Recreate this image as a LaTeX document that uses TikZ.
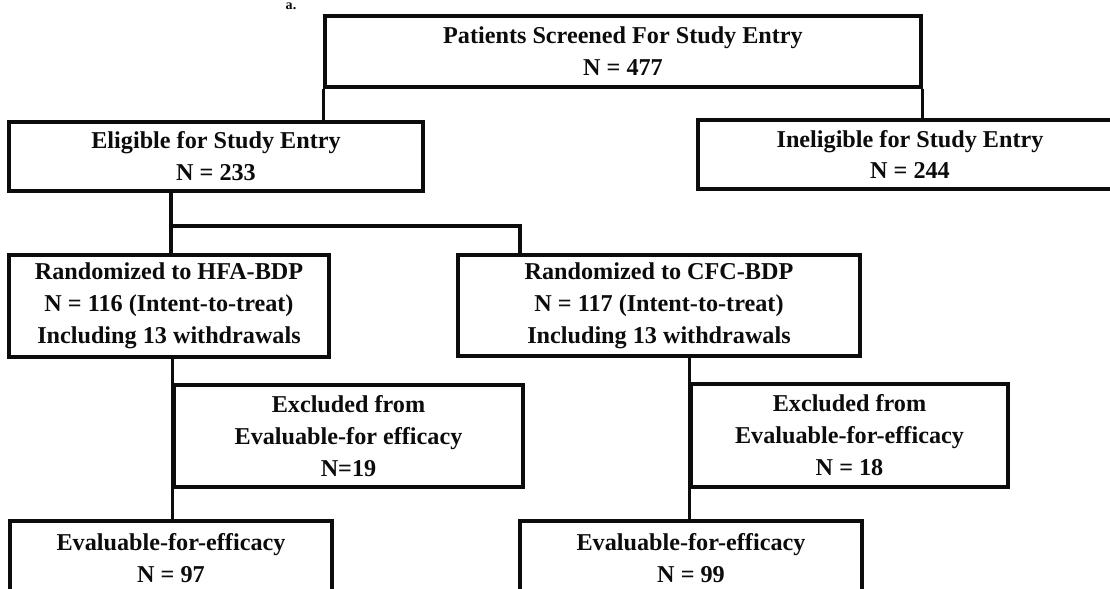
\documentclass[tikz,border=0pt]{standalone}
\usepackage{fontspec}
\usepackage{xcolor}
\usepackage{tikz}
\newfontfamily\scanfont{Liberation Serif}
\definecolor{ink}{RGB}{12,12,12}
\definecolor{paper}{RGB}{255,255,255}
\def\u{0.025cm}
% boite : nom, x1, y1, x2, y2, texte (coordonnées en pixels du scan)
\newcommand{\boite}[6]{%
  \node[boite,minimum width={(#4-#2)*\u},minimum height={(#5-#3)*\u}]
    (#1) at ({(#2+#4)/2},{(#3+#5)/2}) {#6};}

\begin{document}
\begin{tikzpicture}[x=\u,y=-\u,
  boite/.style={draw=ink,line width=2.4pt,align=center,inner sep=0pt,
    text=ink,font=\scanfont\bfseries\fontsize{17.2}{22.7}\selectfont},
  lien/.style={draw=ink,line width=2.4pt}]
  % --- Page ---
  \useasboundingbox (0,0) rectangle (1110,589);
  \fill[paper] (0,0) rectangle (1110,589);
  \clip (0,0) rectangle (1110,589);
  \node[inner sep=0,text=ink,font=\scanfont\bfseries\fontsize{10}{11}\selectfont] (lettre) at (291,6) {a.};

  % --- Boites ---
  \boite{screen}{325}{16}{921}{87}{Patients Screened For Study Entry\\N = 477}
  \boite{elig}{9}{122}{423}{191}{Eligible for Study Entry\\N = 233}
  \boite{inel}{698}{120}{1122}{189}{Ineligible for Study Entry\\N = 244}
  \boite{hfa}{9}{255}{329}{357}{Randomized to HFA-BDP\\N = 116 (Intent-to-treat)\\Including 13 withdrawals}
  \boite{cfc}{458}{255}{860}{356}{Randomized to CFC-BDP\\N = 117 (Intent-to-treat)\\Including 13 withdrawals}
  \boite{exh}{174}{385}{523}{487}{Excluded from\\Evaluable-for efficacy\\N=19}
  \boite{exc}{691}{384}{1008}{487}{Excluded from\\Evaluable-for-efficacy\\N = 18}
  \boite{evh}{10}{521}{332}{595}{Evaluable-for-efficacy\\N = 97}
  \boite{evc}{520}{521}{862}{595}{Evaluable-for-efficacy\\N = 99}

  % --- Liens ---
  \coordinate (brG) at (171,226);
  \coordinate (brD) at (520,226);
  \draw[lien] (screen.south west) -- (screen.south west |- elig.north);
  \draw[lien] (screen.south east) -- (screen.south east |- inel.north);
  \draw[lien] (brG |- elig.south) -- (brG |- hfa.north);
  \draw[lien] (brG) -- (brD) -- (brD |- cfc.north);
  \draw[lien] (exh.west |- hfa.south) -- (exh.west |- evh.north);
  \draw[lien] (exc.west |- cfc.south) -- (exc.west |- evc.north);
\end{tikzpicture}
\end{document}
